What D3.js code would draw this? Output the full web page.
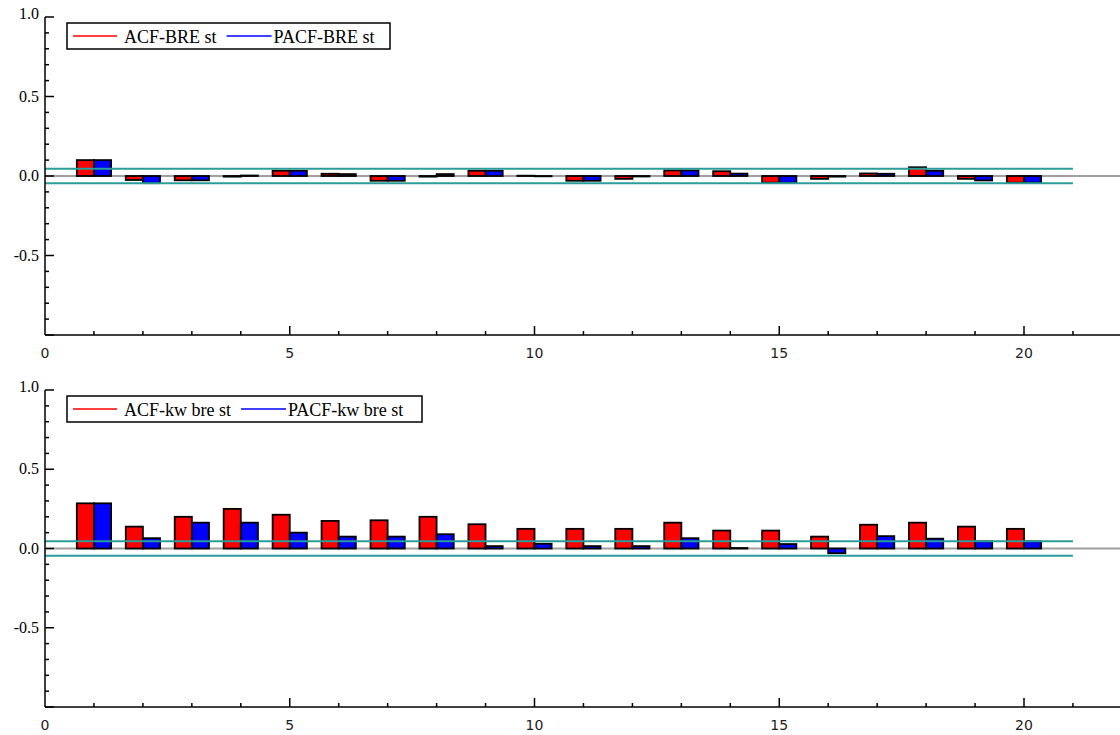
<!DOCTYPE html>
<html>
<head>
<meta charset="utf-8">
<script src="https://cdn.jsdelivr.net/npm/d3@7"></script>
<style>
  html, body { margin: 0; padding: 0; background: #fff; }
  svg { display: block; }
</style>
</head>
<body>
<svg id="chart" width="1120" height="735"></svg>
<script>
// Correlogram values by lag
const lags = d3.range(1, 21);
const acfBRE  = [0.100, -0.025, -0.027, -0.004, 0.033, 0.014, -0.030, -0.004, 0.033, 0.002,
                 -0.030, -0.018, 0.035, 0.030, -0.042, -0.018, 0.016, 0.055, -0.018, -0.042];
const pacfBRE = [0.100, -0.045, -0.027, 0.003, 0.033, 0.012, -0.030, 0.012, 0.033, -0.002,
                 -0.030, -0.003, 0.035, 0.015, -0.042, -0.004, 0.014, 0.033, -0.028, -0.042];
const acfKw   = [0.285, 0.138, 0.200, 0.250, 0.213, 0.174, 0.178, 0.200, 0.153, 0.124,
                 0.124, 0.124, 0.163, 0.113, 0.113, 0.075, 0.150, 0.163, 0.138, 0.124];
const pacfKw  = [0.285, 0.065, 0.163, 0.163, 0.100, 0.075, 0.075, 0.090, 0.015, 0.030,
                 0.015, 0.015, 0.065, 0.003, 0.028, -0.030, 0.078, 0.062, 0.045, 0.045];
const band = 0.046;                 // approximate 95% band
const yTickLabels = ["1.0", "0.5", "0.0", "-0.5"];
const yTickValues = [1, 0.5, 0, -0.5];
const xTickLabels = ["0", "5", "10", "15", "20"];

const panels = [
  { top: 17,  bottom: 335, acf: acfBRE, pacf: pacfBRE, names: ["ACF-BRE st", "PACF-BRE st"], legendW: 323 },
  { top: 390, bottom: 707, acf: acfKw,  pacf: pacfKw,  names: ["ACF-kw bre st", "PACF-kw bre st"], legendW: 355 }
];

const serif = "Liberation Serif, Times New Roman, serif";
const svg = d3.select("#chart");
const x = d3.scaleLinear().domain([0, 22]).range([45, 45 + 22 * 48.95]);
const barW = 0.35;

panels.forEach(p => {
  const y = d3.scaleLinear().domain([-1, 1]).range([p.bottom, p.top]);
  const g = svg.append("g");

  // zero line
  g.append("line")
    .attr("x1", x(0)).attr("x2", 1120)
    .attr("y1", y(0)).attr("y2", y(0))
    .attr("stroke", "#a0a0a0").attr("stroke-width", 2);

  // bars: ACF left of the lag, PACF right of it
  const bar = (vals, side, fill) => {
    g.append("g").selectAll("rect").data(lags).join("rect")
      .attr("x", k => side < 0 ? x(k - barW) : x(k))
      .attr("width", x(barW) - x(0))
      .attr("y", (k, i) => y(Math.max(0, vals[i])))
      .attr("height", (k, i) => Math.abs(y(vals[i]) - y(0)))
      .attr("fill", fill)
      .attr("stroke", "#000").attr("stroke-width", 1.8);
  };
  bar(p.acf, -1, "#ff0000");
  bar(p.pacf, 1, "#0000ff");

  // confidence band
  [band, -band].forEach(b => {
    g.append("line")
      .attr("x1", x(0)).attr("x2", x(21))
      .attr("y1", y(b)).attr("y2", y(b))
      .attr("stroke", "#2a9d98").attr("stroke-width", 2);
  });

  // y axis
  g.append("line").attr("x1", x(0)).attr("x2", x(0))
    .attr("y1", p.top).attr("y2", p.bottom)
    .attr("stroke", "#000").attr("stroke-width", 1.5);
  d3.range(-10, 11).forEach(i => {
    const v = i / 10;
    const major = i % 5 === 0;
    g.append("line").attr("x1", x(0)).attr("x2", x(0) + (major ? 9 : 4))
      .attr("y1", y(v)).attr("y2", y(v))
      .attr("stroke", "#000").attr("stroke-width", 1.5);
  });
  g.append("g").selectAll("text").data(yTickValues).join("text")
    .attr("x", 39).attr("y", v => y(v) + (v === 1 ? 2 : 5))
    .attr("text-anchor", "end")
    .attr("font-family", serif)
    .attr("font-size", 16).attr("fill", "#000")
    .text((v, i) => yTickLabels[i]);

  // x axis
  g.append("line").attr("x1", x(0)).attr("x2", 1120)
    .attr("y1", p.bottom).attr("y2", p.bottom)
    .attr("stroke", "#000").attr("stroke-width", 1.5);
  d3.range(1, 22).forEach(k => {
    const major = k % 5 === 0;
    g.append("line").attr("x1", x(k)).attr("x2", x(k))
      .attr("y1", p.bottom).attr("y2", p.bottom - (major ? 9 : 4))
      .attr("stroke", "#000").attr("stroke-width", 1.5);
  });
  g.append("g").selectAll("text").data(xTickLabels).join("text")
    .attr("x", d => x(+d)).attr("y", p.bottom + 23)
    .attr("text-anchor", "middle")
    .attr("font-family", "DejaVu Sans, Verdana, sans-serif")
    .attr("font-size", 14).attr("fill", "#222")
    .text(d => d);

  // legend
  const lx = 67, ly = p.top + 6;
  const lg = g.append("g");
  lg.append("rect").attr("x", lx).attr("y", ly).attr("width", p.legendW).attr("height", 26)
    .attr("fill", "#fff").attr("stroke", "#000").attr("stroke-width", 1.5);
  const txt1 = lg.append("text").attr("x", lx + 57).attr("y", ly + 20)
    .attr("font-family", serif)
    .attr("font-size", 18).attr("fill", "#000").text(p.names[0]);
  const w1 = txt1.node().getComputedTextLength();
  lg.append("line").attr("x1", lx + 6).attr("x2", lx + 50)
    .attr("y1", ly + 13).attr("y2", ly + 13)
    .attr("stroke", "#ff0000").attr("stroke-width", 1.5);
  const bx = lx + 57 + w1 + 10;
  lg.append("line").attr("x1", bx).attr("x2", bx + 45)
    .attr("y1", ly + 13).attr("y2", ly + 13)
    .attr("stroke", "#0000ff").attr("stroke-width", 1.5);
  lg.append("text").attr("x", bx + 47).attr("y", ly + 20)
    .attr("font-family", serif)
    .attr("font-size", 18).attr("fill", "#000").text(p.names[1]);
});
</script>
</body>
</html>
